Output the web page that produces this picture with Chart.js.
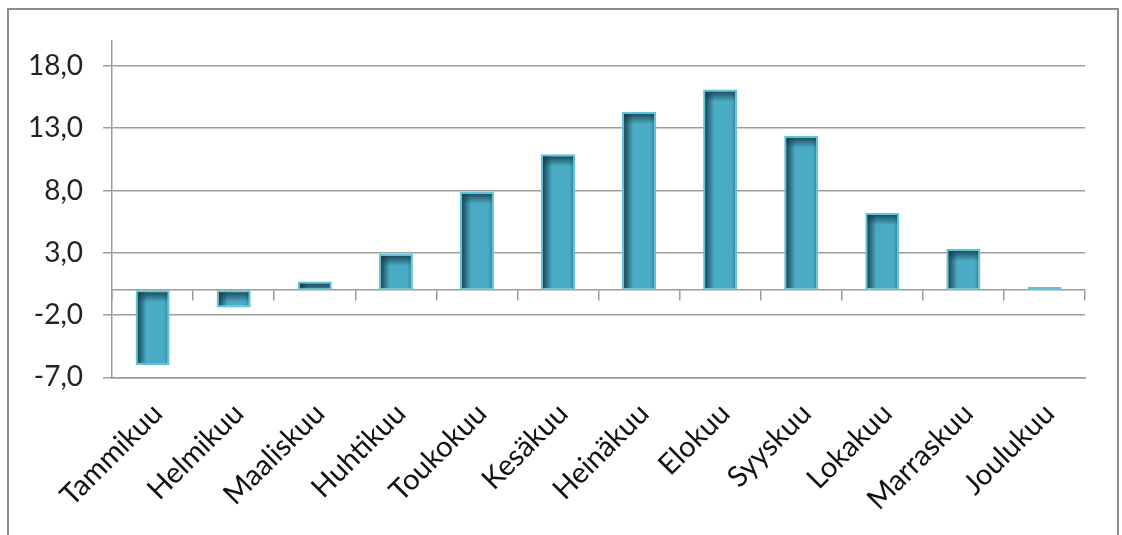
<!DOCTYPE html>
<html>
<head>
<meta charset="utf-8">
<script src="https://cdn.jsdelivr.net/npm/chart.js@4"></script>
<style>
  body { margin: 0; background: #fff; }
  #frame { position: absolute; left: 7px; top: 8px; width: 1108px; height: 540px; border: 2px solid #8c8c8c; border-bottom: none; }
  #wrap { position: absolute; left: 0; top: 0; width: 1122px; height: 535px; }
</style>
</head>
<body>
<div id="frame"></div>
<div id="wrap"><canvas id="myChart" width="1122" height="535"></canvas></div>
<script>
const months = ['Tammikuu', 'Helmikuu', 'Maaliskuu', 'Huhtikuu', 'Toukokuu', 'Kesäkuu',
  'Heinäkuu', 'Elokuu', 'Syyskuu', 'Lokakuu', 'Marraskuu', 'Joulukuu'];
const temps = [-6.0, -1.4, 0.7, 2.9, 7.9, 10.9, 14.3, 16.1, 12.4, 6.2, 3.3, 0.25];
const yTicks = [-7, -2, 3, 8, 13, 18];

const gridGrey = '#9c9c9c';

// darker edges inside every bar, like the bevel look in the original
const bevel = {
  id: 'bevel',
  afterDatasetsDraw(chart) {
    const ctx = chart.ctx;
    chart.getDatasetMeta(0).data.forEach(bar => {
      const {x, y, base, width} = bar.getProps(['x', 'y', 'base', 'width'], true);
      const l = x - width / 2 + 2, r = x + width / 2 - 2;
      const t = Math.min(y, base) + 2, b = Math.max(y, base) - 2;
      if (b - t < 1) return;
      ctx.save();
      ctx.beginPath();
      ctx.rect(l, t, r - l, b - t);
      ctx.clip();
      let g = ctx.createLinearGradient(l, 0, r, 0);
      g.addColorStop(0, 'rgba(18,55,68,0.85)');
      g.addColorStop(0.3, 'rgba(18,55,68,0)');
      g.addColorStop(0.88, 'rgba(18,55,68,0)');
      g.addColorStop(1, 'rgba(18,55,68,0.3)');
      ctx.fillStyle = g;
      ctx.fillRect(l, t, r - l, b - t);
      g = ctx.createLinearGradient(0, t, 0, t + 10);
      g.addColorStop(0, 'rgba(18,55,68,0.8)');
      g.addColorStop(1, 'rgba(18,55,68,0)');
      ctx.fillStyle = g;
      ctx.fillRect(l, t, r - l, 10);
      ctx.restore();
    });
  }
};

const ctx = document.getElementById('myChart');
const chart = new Chart(ctx, {
  type: 'bar',
  data: {
    labels: months,
    datasets: [{
      data: temps,
      backgroundColor: '#4aabc4',
      borderColor: '#5fc3dc',
      borderWidth: 2,
      borderSkipped: false,
      categoryPercentage: 1,
      barPercentage: 0.42
    }]
  },
  options: {
    responsive: false,
    animation: false,
    layout: { padding: { left: 8, top: 41, right: 37, bottom: 7 } },
    plugins: { legend: { display: false }, tooltip: { enabled: false } },
    scales: {
      x: {
        grid: { display: false },
        border: { display: true, color: gridGrey, width: 1.5 },
        ticks: {
          minRotation: 45, maxRotation: 45, padding: 11, labelOffset: 5,
          color: '#111', font: { family: 'Lato', size: 29 }
        }
      },
      x2: {
        axis: 'x',
        type: 'category',
        labels: months,
        position: { y: 0 },
        grid: { offset: true, drawOnChartArea: false, drawTicks: true, tickLength: 10, color: gridGrey, lineWidth: 1.5 },
        border: { display: true, color: gridGrey, width: 1.5 },
        ticks: { display: false }
      },
      y: {
        min: -7,
        max: 20,
        afterBuildTicks: (scale) => { scale.ticks = yTicks.map(v => ({ value: v })); },
        grid: { color: gridGrey, lineWidth: 1.5, tickLength: 9 },
        border: { display: true, color: gridGrey, width: 1.5 },
        ticks: {
          padding: 20,
          color: '#222',
          font: { family: 'Lato', size: 28 },
          callback: (v) => v.toFixed(1).replace('.', ',')
        }
      }
    }
  },
  plugins: [bevel]
});
</script>
</body>
</html>
